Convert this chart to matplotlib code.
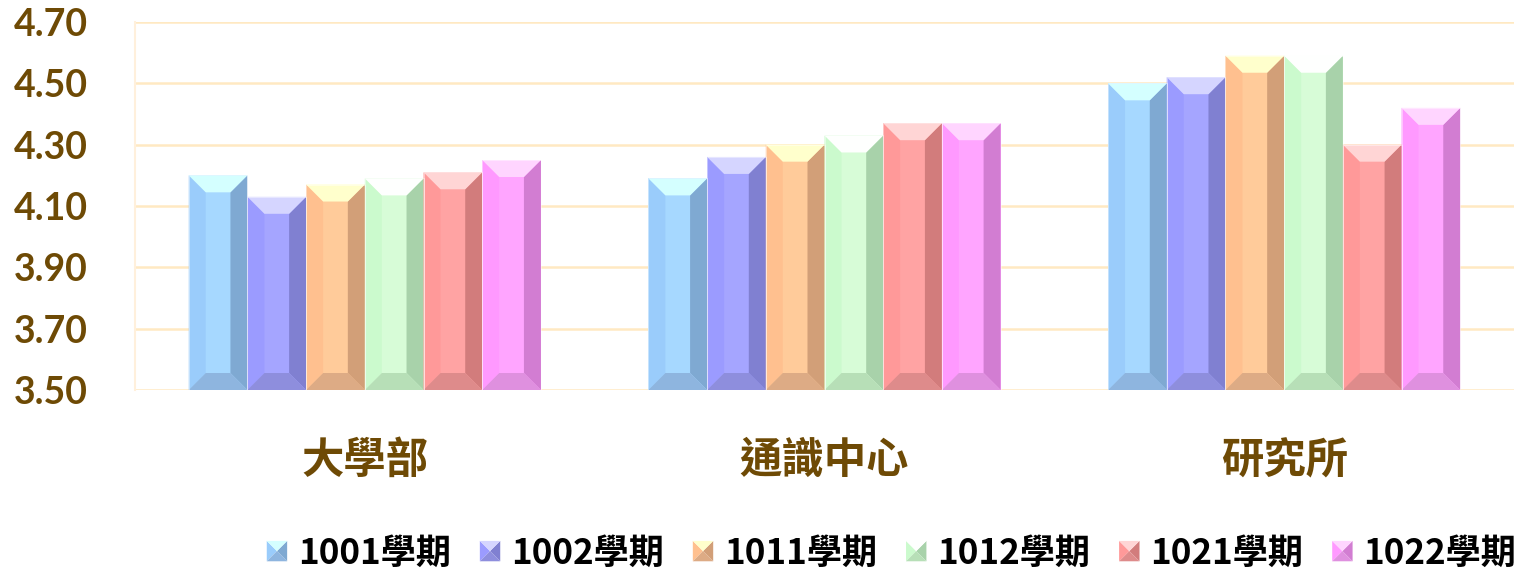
import matplotlib
matplotlib.use("Agg")
import matplotlib.pyplot as plt
from matplotlib.patches import Polygon
from matplotlib.legend_handler import HandlerBase
import numpy as np

categories = ["大學部", "通識中心", "研究所"]
series_names = ["1001學期", "1002學期", "1011學期", "1012學期", "1021學期", "1022學期"]
s1001 = [4.20, 4.19, 4.50]
s1002 = [4.13, 4.26, 4.52]
s1011 = [4.17, 4.30, 4.59]
s1012 = [4.19, 4.33, 4.59]
s1021 = [4.21, 4.37, 4.30]
s1022 = [4.25, 4.37, 4.42]
series_values = [s1001, s1002, s1011, s1012, s1021, s1022]
yticks = [3.50, 3.70, 3.90, 4.10, 4.30, 4.50, 4.70]

# (left, face, right, top, bottom)
palettes = [
    ("#9ACCFB", "#A6D8FF", "#7FA9D2", "#D4FFFF", "#8EB5DF"),
    ("#9B9BFF", "#A5A5FF", "#8080D1", "#D5D5FF", "#8E8EDD"),
    ("#FFC08F", "#FFCB9A", "#D29F78", "#FFFFCC", "#DDAB85"),
    ("#CBFACD", "#D7FCD7", "#A8D2AA", "#FEFFFE", "#B7DFB7"),
    ("#FF9999", "#FFA3A3", "#D27C7C", "#FFD5D5", "#DE8B8B"),
    ("#FF99FF", "#FFA5FF", "#D27DD2", "#FFD5FF", "#DF90DF"),
]

brown = "#6E4A05"
DPI = 100
fig = plt.figure(figsize=(15.22, 5.74), dpi=DPI)
ax = fig.add_axes([135 / 1522, 184 / 574, 1379 / 1522, 368 / 574])
ax.set_xlim(-0.5, 2.5)
ax.set_ylim(3.5, 4.7)
ax.set_yticks(yticks)
ax.set_yticklabels([f"{v:.2f}" for v in yticks], fontfamily="Lato",
                   fontweight="bold", fontsize=27, color=brown)
ax.set_xticks(range(len(categories)))
ax.set_xticklabels(categories, fontfamily=["Noto Sans CJK TC", "DejaVu Sans"],
                   fontweight="bold", fontsize=30.5, color=brown)
ax.tick_params(axis="y", length=0, pad=34)
ax.tick_params(axis="x", length=0, pad=36)
for sp in ["top", "right", "bottom"]:
    ax.spines[sp].set_visible(False)
ax.spines["left"].set_color("#FFF0DC")
ax.spines["left"].set_linewidth(1.5)
ax.grid(axis="y", color="#FFE9C2", linewidth=1.8)
ax.set_axisbelow(True)

n = len(series_values)
w = 0.1277
x = np.arange(len(categories))
b = 17  # bevel size in pixels
inv = ax.transData.inverted()

for i, (vals, pal) in enumerate(zip(series_values, palettes)):
    left_c, face_c, right_c, top_c, bot_c = pal
    bars = ax.bar(x + (i - (n - 1) / 2) * w, np.array(vals) - 3.5, w, bottom=3.5,
                  color=face_c, edgecolor="none", zorder=2, label=series_names[i])
    for r in bars:
        (x0, y0), (x1, y1) = ax.transData.transform(
            [(r.get_x(), r.get_y()), (r.get_x() + r.get_width(), r.get_y() + r.get_height())])
        polys = [
            ([(x0, y0), (x0, y1), (x0 + b, y1 - b), (x0 + b, y0 + b)], left_c),
            ([(x1, y0), (x1, y1), (x1 - b, y1 - b), (x1 - b, y0 + b)], right_c),
            ([(x0, y1), (x1, y1), (x1 - b, y1 - b), (x0 + b, y1 - b)], top_c),
            ([(x0, y0), (x1, y0), (x1 - b, y0 + b), (x0 + b, y0 + b)], bot_c),
        ]
        for pts, c in polys:
            ax.add_patch(Polygon(inv.transform(pts), closed=True, facecolor=c,
                                 edgecolor="none", zorder=3))
        ax.add_patch(Polygon(inv.transform([(x0, y0), (x0, y1), (x1, y1), (x1, y0)]),
                             closed=True, facecolor="none", edgecolor="#FFFFFF",
                             linewidth=0.5, alpha=0.6, zorder=4))


class HandlerBevel(HandlerBase):
    def __init__(self, pal):
        super().__init__()
        self.pal = pal

    def create_artists(self, legend, orig_handle, xdescent, ydescent, width, height,
                       fontsize, trans):
        left_c, face_c, right_c, top_c, bot_c = self.pal
        s = min(width, height)
        x0, y0 = -xdescent + (width - s) / 2, -ydescent + (height - s) / 2
        x1, y1 = x0 + s, y0 + s
        cx, cy = (x0 + x1) / 2, (y0 + y1) / 2
        tris = [
            ([(x0, y0), (x0, y1), (cx, cy)], left_c),
            ([(x1, y0), (x1, y1), (cx, cy)], right_c),
            ([(x0, y1), (x1, y1), (cx, cy)], top_c),
            ([(x0, y0), (x1, y0), (cx, cy)], bot_c),
        ]
        arts = []
        for pts, c in tris:
            p = Polygon(pts, closed=True, facecolor=c, edgecolor="none", transform=trans)
            arts.append(p)
        return arts


handles, labels = ax.get_legend_handles_labels()
hmap = {h: HandlerBevel(palettes[k]) for k, h in enumerate(handles)}
leg = fig.legend(handles, labels, handler_map=hmap, loc="center right",
                 bbox_to_anchor=(1516 / 1522, 1 - 553 / 574),
                 ncol=6, frameon=False,
                 prop={"family": ["Noto Sans CJK TC", "DejaVu Sans"], "weight": "bold", "size": 25.3},
                 handlelength=0.58, handleheight=0.58, handletextpad=0.3,
                 columnspacing=0.83, borderpad=0, borderaxespad=0)
for t in leg.get_texts():
    t.set_color("black")

fig.savefig("out.png", dpi=DPI)
